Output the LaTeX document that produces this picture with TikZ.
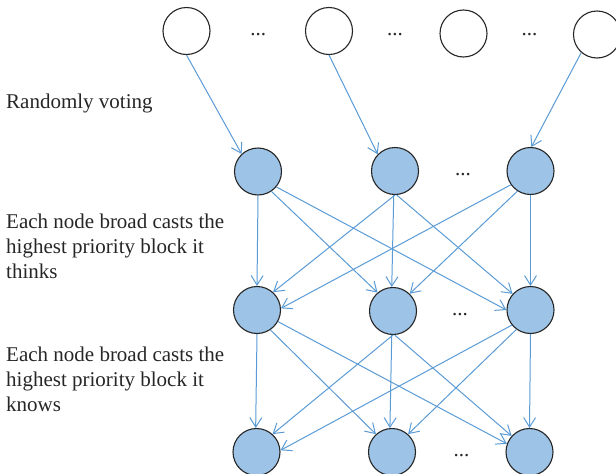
\documentclass[tikz,border=0pt]{standalone}
\usepackage{fontspec}
\setmainfont{Liberation Serif}
\usetikzlibrary{arrows.meta}
\definecolor{nodefill}{RGB}{157,195,230}
\definecolor{arrowblue}{RGB}{91,155,213}
\begin{document}
\begin{tikzpicture}[x=1pt,y=-1pt,
  peer/.style={circle, draw=black!85, line width=1.1pt, fill=nodefill, minimum size=47pt, inner sep=0pt},
  voter/.style={peer, fill=white},
  link/.style={draw=arrowblue, line width=1pt, -{Straight Barb[length=9.5pt,width=12pt]}},
  txt/.style={font=\fontsize{21}{25}\selectfont, inner sep=0pt, anchor=base west, align=left, text=black!85},
  dotsnode/.style={font=\fontsize{21}{25}\selectfont, inner sep=0pt, anchor=base, text=black!85}
]
\useasboundingbox (0,0) rectangle (616,474);

% top row (voters)
\node[voter] (t1) at (186.5,31) {};
\node[voter] (t2) at (329,31) {};
\node[voter] (t3) at (463.5,33.5) {};
\node[voter] (t4) at (597,34.5) {};
\node[dotsnode] (d1) at (258.3,35.5) {...};
\node[dotsnode] (d2) at (395,35.5) {...};
\node[dotsnode] (d3) at (529.5,35.5) {...};

% second row
\node[peer] (a1) at (258,171.5) {};
\node[peer] (a2) at (395,171) {};
\node[peer] (a3) at (530.5,171) {};
\node[dotsnode] (d4) at (463,175) {...};

% third row
\node[peer] (b1) at (257,310) {};
\node[peer] (b2) at (393,311) {};
\node[peer] (b3) at (530.5,310) {};
\node[dotsnode] (d5) at (460,315) {...};

% fourth row
\node[peer] (c1) at (256.5,452) {};
\node[peer] (c2) at (392,452) {};
\node[peer] (c3) at (529.5,452) {};
\node[dotsnode] (d6) at (461.5,456) {...};

% labels (base anchor = baseline of the last line)
\node[txt] (l1) at (6,108.3) {Randomly voting};
\node[txt] (l2) at (6,278.3) {Each node broad casts the\\highest priority block it\\thinks};
\node[txt] (l3) at (6,411.7) {Each node broad casts the\\highest priority block it\\knows};

% voting arrows
\draw[link] (t1.-90) -- (a1.133);
\draw[link] (t2.-90) -- (a2.136);
\draw[link] (t4.229) -- (a3.88);

% row 2 -> row 3
\draw[link] (a1.-90) -- (b1.90);
\draw[link] (a1.-56) -- (b2.130);
\draw[link] (a1.-40) -- (b3.180);
\draw[link] (a2.-90) -- (b1.48);
\draw[link] (a2.-93) -- (b2.93);
\draw[link] (a2.-86) -- (b3.138);
\draw[link] (a3.215) -- (b1.4);
\draw[link] (a3.237) -- (b2.46);
\draw[link] (a3.-90) -- (b3.90);

% row 3 -> row 4
\draw[link] (b1.-90) -- (c1.92);
\draw[link] (b1.-56) -- (c2.132);
\draw[link] (b1.-29) -- (c3.160);
\draw[link] (b2.-90) -- (c1.48);
\draw[link] (b2.-93) -- (c2.95);
\draw[link] (b2.-86) -- (c3.138);
\draw[link] (b3.219) -- (c1.4);
\draw[link] (b3.234) -- (c2.48);
\draw[link] (b3.-90) -- (c3.90);
\end{tikzpicture}
\end{document}
